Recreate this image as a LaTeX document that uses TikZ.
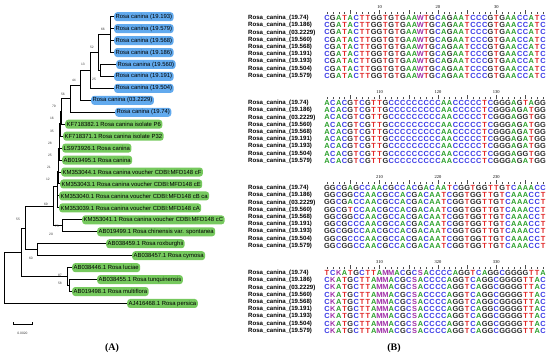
\documentclass[tikz,border=0pt]{standalone}
\usepackage{fontspec}
\setmainfont{Liberation Serif}
\setsansfont{Liberation Sans}
\usepackage{tikz}
\definecolor{leafblue}{HTML}{62AAEE}
\definecolor{leafgreen}{HTML}{76C95E}
\definecolor{bootgray}{HTML}{3A3A3A}
\definecolor{nuA}{HTML}{2AA02A}
\definecolor{nuC}{HTML}{3A3AE6}
\definecolor{nuG}{HTML}{2B2B2B}
\definecolor{nuT}{HTML}{E02828}
\definecolor{nuW}{HTML}{A030A8}
\definecolor{nuK}{HTML}{A030A8}
\definecolor{nuM}{HTML}{A030A8}
\definecolor{nuS}{HTML}{A030A8}
\newcount\nucol
\newcommand{\seqrow}[3]{\xdef\nublk{#1}\xdef\nurow{#2}\global\nucol=0 \nuloop#3\relax}
\def\nuloop#1{\ifx\relax#1\let\nunext\relax\else\nuput{#1}\let\nunext\nuloop\fi\nunext}
\newcommand{\nuput}[1]{\node[nuc,text=nu#1] (q\nublk-\nurow-\the\nucol) at ({327+5.84*\the\nucol},{85*\nublk+18+7.22*\nurow}) {#1};\global\advance\nucol by 1 }

\begin{document}
\begin{tikzpicture}[x=1pt,y=-1pt,font=\sffamily]
\tikzset{leafb/.style={fill=leafblue,rounded corners=3pt,anchor=west,inner xsep=1.5pt,inner ysep=0pt,minimum height=9pt,font=\sffamily\fontsize{5.9}{6}\selectfont}, leafg/.style={leafb,fill=leafgreen}, branch/.style={line width=1pt,black}, boot/.style={inner sep=0pt,text=bootgray,font=\sffamily\fontsize{3.3}{3.3}\selectfont}, nuc/.style={inner sep=0pt,font=\sffamily\bfseries\fontsize{7.4}{7.4}\selectfont}, seqname/.style={anchor=west,inner sep=0pt,font=\sffamily\bfseries\fontsize{6.1}{6.1}\selectfont}, rnum/.style={inner sep=0pt,font=\rmfamily\fontsize{4.5}{4.5}\selectfont}, rtick/.style={line width=0.35pt,black!70}, panel/.style={inner sep=0pt,font=\rmfamily\bfseries\fontsize{10}{10}\selectfont}}
\useasboundingbox (0,0) rectangle (550,358);
% tree (A)
\coordinate (n1) at (110,34.6);
\coordinate (n2) at (100,70.5);
\coordinate (n3) at (98,52.6);
\coordinate (n4) at (90,70.5);
\coordinate (n5) at (80,85.4);
\coordinate (n6) at (70,98.9);
\coordinate (c1) at (61,111.6);
\coordinate (c2) at (60.4,123.9);
\coordinate (c3) at (59.8,136.0);
\coordinate (c4) at (59.2,148.1);
\coordinate (c5) at (58.6,160.1);
\coordinate (c6) at (58,172.0);
\coordinate (c7) at (57,187.0);
\coordinate (cq) at (57.5,201.9);
\coordinate (cp) at (62,225.8);
\coordinate (cz) at (53,206.4);
\coordinate (cm) at (37,249.7);
\coordinate (cy) at (25,228.1);
\coordinate (cl2) at (69,285.6);
\coordinate (cl1) at (67,276.6);
\coordinate (cx) at (21,252.4);
\coordinate (cr) at (4,277.9);
\node[leafb] (s193) at (114,16.7) {Rosa canina (19.193)};
\node[leafb] (s579) at (114,28.65) {Rosa canina (19.579)};
\node[leafb] (s568) at (114,40.6) {Rosa canina (19.568)};
\node[leafb] (s186) at (114,52.55) {Rosa canina (19.186)};
\node[leafb] (s560) at (116,64.5) {Rosa canina (19.560)};
\node[leafb] (s191) at (114,76.45) {Rosa canina (19.191)};
\node[leafb] (s504) at (114,88.4) {Rosa canina (19.504)};
\node[leafb] (s2229) at (91,100.35) {Rosa canina (03.2229)};
\node[leafb] (s74) at (115,112.3) {Rosa canina (19.74)};
\node[leafg] (kf382) at (65,124.25) {KF718382.1 Rosa canina isolate P6};
\node[leafg] (kf371) at (63,136.2) {KF718371.1 Rosa canina isolate P32};
\node[leafg] (ls926) at (62,148.15) {LS973926.1 Rosa canina};
\node[leafg] (ab495) at (62,160.1) {AB019495.1 Rosa canina};
\node[leafg] (km044) at (61,172.05) {KM353044.1 Rosa canina voucher CDBI:MFD148 cF};
\node[leafg] (km043) at (60,184.0) {KM353043.1 Rosa canina voucher CDBI:MFD148 cE};
\node[leafg] (km040) at (59,195.95) {KM353040.1 Rosa canina voucher CDBI:MFD148 cB ca};
\node[leafg] (km039) at (59,207.9) {KM353039.1 Rosa canina voucher CDBI:MFD148 cA};
\node[leafg] (km041) at (82,219.85) {KM353041.1 Rosa canina voucher CDBI:MFD148 cC};
\node[leafg] (ab499) at (97,231.8) {AB019499.1 Rosa chinensis var. spontanea};
\node[leafg] (ab459) at (106,243.75) {AB038459.1 Rosa roxburghii};
\node[leafg] (ab457) at (132,255.7) {AB038457.1 Rosa cymosa};
\node[leafg] (ab446) at (72,267.65) {AB038446.1 Rosa luciae};
\node[leafg] (ab455) at (97,279.6) {AB038455.1 Rosa tunquinensis};
\node[leafg] (ab498) at (72,291.55) {AB019498.1 Rosa multiflora};
\node[leafg] (aj468) at (127,303.5) {AJ416468.1 Rosa persica};
\foreach \p/\c in {n1/s193,n1/s579,n1/s568,n1/s186,n2/s560,n2/s191,n3/n1,n3/n2,n4/n3,n4/s504,n5/n4,n5/s2229,n6/n5,n6/s74,c1/n6,c1/kf382,c2/c1,c2/kf371,c3/c2,c3/ls926,c4/c3,c4/ab495,c5/c4,c5/km044,c6/c5,c6/km043,cq/km040,cq/km039,c7/c6,c7/cq,cp/km041,cp/ab499,cz/c7,cz/cp,cm/ab459,cm/ab457,cy/cz,cy/cm,cl2/ab455,cl2/ab498,cl1/ab446,cl1/cl2,cx/cy,cx/cl1,cr/cx,cr/aj468}
  \draw[branch] (\p) |- (\c);
% bootstrap values
\foreach \v/\nm/\bx/\by in {66/bt66/103/29,52/bt52/92/47,25/bt25a/94/79,13/bt13/83/64,44/bt44/74/80,56/bt56/63/94,79/bt79/54/106,16/bt16/52/118,35/bt35/52/131,28/bt28/50/143,25/bt25b/50/155,21/bt21/49/167,12/bt12/48/179,69/bt69/46/204,75/bt75/57/226,20/bt20/51/234,55/bt55/18/219,60/bt60/31/258,87/bt87/60/275,58/bt58/60/283}
  \node[boot] (\nm) at (\bx,\by) {\v};
% scale bar
\coordinate (sb1) at (13,324);
\coordinate (sb2) at (32,324);
\draw[line width=0.5pt] (sb1) -- (sb2);
\draw[line width=0.5pt] (sb1) ++(0,-1.5) -- ++(0,3);
\draw[line width=0.5pt] (sb2) ++(0,-1.5) -- ++(0,3);
\node[boot] (sbl) at (22.5,333) {0.0020};
\node[panel] (pa) at (112,348) {(A)};
% alignment (B)
\foreach \blk/\off in {0/0,1/100,2/200,3/300}{
  \foreach \i in {0,...,37}{
    \pgfmathtruncatemacro\pos{\off+\i+1}
    \pgfmathtruncatemacro\five{mod(\pos,5)}
    \pgfmathtruncatemacro\ten{mod(\pos,10)}
    \ifnum\five=0
      \draw[rtick] ({327+5.84*\i},{85*\blk+10.3}) -- ++(0,3.6);
    \else
      \draw[rtick] ({327+5.84*\i},{85*\blk+12.2}) -- ++(0,1.4);
    \fi
    \ifnum\ten=0
      \node[rnum] (rl\pos) at ({327+5.84*\i},{85*\blk+7.2}) {\pos};
    \fi
  }
  \foreach \nm [count=\k from 0] in {19.74,19.186,03.2229,19.560,19.568,19.191,19.193,19.504,19.579}
    \node[seqname] (nm\blk-\k) at (248,{85*\blk+18+7.22*\k}) {Rosa\_canina\_(\nm)};
}
\foreach \k in {0,...,8}{\seqrow{0}{\k}{CGATACTTGGTGTGAAWTGCAGAATCCCGTGAACCATC}}
\seqrow{1}{0}{ACACGTCGTTGCCCCCCCCCAACCCCCTCGGGAGTAGG}
\foreach \k in {1,3,4,5,6,8}{\seqrow{1}{\k}{ACACGTCGTTGCCCCCCCCCAACCCCCTCGGGAGATGG}}
\foreach \k in {2,7}{\seqrow{1}{\k}{ACACGTCGTTGCCCCCCCCCAACCCCCTCGGGAGGTGG}}
\seqrow{2}{0}{GGCGAGCCAACGCCACGACAATCGGTGGTTGTCAAACC}
\foreach \k in {1,4,6,8}{\seqrow{2}{\k}{GGCGGCCAACGCCACGACAATCGGTGGTTGTCAAACCT}}
\seqrow{2}{2}{GGCGACCAACGCCACGACAATCGGTGGTTGTCAAACCT}
\seqrow{2}{3}{GGCGTCCAACGCCACGACAATCGGTGGTTGTCAAACCT}
\foreach \k in {5,7}{\seqrow{2}{\k}{GGCGCCCAACGCCACGACAATCGGTGGTTGTCAAACCT}}
\seqrow{3}{0}{TCKATGCTTAMMACGCSACCCCAGGTCAGGCGGGGTTA}
\foreach \k in {1,...,8}{\seqrow{3}{\k}{CKATGCTTAMMACGCSACCCCAGGTCAGGCGGGGTTAC}}
\node[panel] (pb) at (394,348) {(B)};
\end{tikzpicture}
\end{document}
